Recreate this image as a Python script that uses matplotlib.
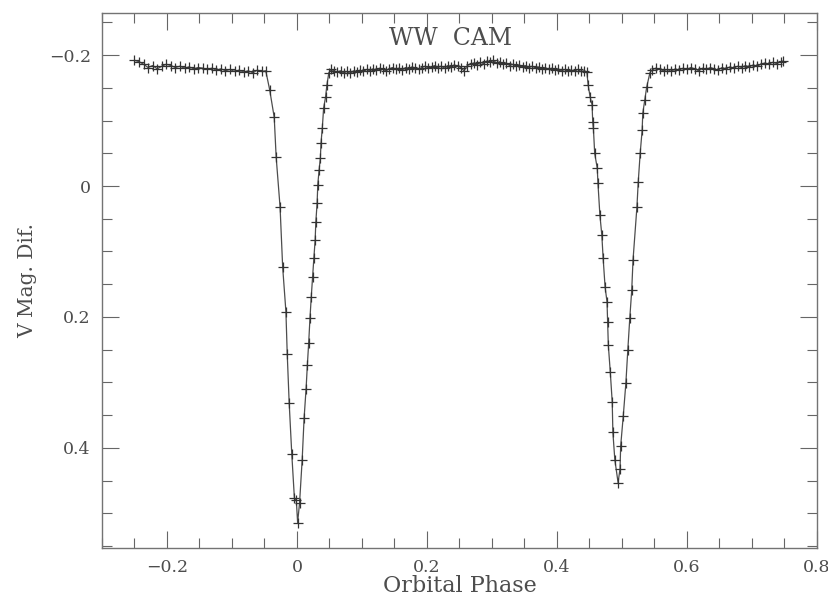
import numpy as np
import matplotlib
matplotlib.use("Agg")
import matplotlib.pyplot as plt
from matplotlib.ticker import MultipleLocator

# out of eclipse, before primary minimum
phase_a = [-0.250, -0.243, -0.236, -0.229, -0.222, -0.215, -0.208, -0.201, -0.194, -0.187,
           -0.180, -0.173, -0.166, -0.159, -0.152, -0.145, -0.138, -0.131, -0.124, -0.117,
           -0.110, -0.103, -0.096, -0.089, -0.082, -0.075, -0.068, -0.061, -0.054, -0.048]
mag_a = [-0.192, -0.190, -0.186, -0.181, -0.184, -0.179, -0.183, -0.186, -0.184, -0.181,
         -0.183, -0.180, -0.182, -0.179, -0.181, -0.180, -0.178, -0.180, -0.177, -0.179,
         -0.176, -0.178, -0.175, -0.177, -0.174, -0.176, -0.173, -0.177, -0.175, -0.176]

# primary eclipse
phase_p = [-0.042, -0.035, -0.032, -0.026, -0.022, -0.017, -0.015, -0.012, -0.008, -0.004,
           -0.001, 0.001, 0.004, 0.008, 0.011, 0.014, 0.016, 0.018, 0.020, 0.022,
           0.024, 0.026, 0.028, 0.029, 0.031, 0.032, 0.034, 0.036, 0.037, 0.039,
           0.041, 0.044, 0.046, 0.049]
mag_p = [-0.147, -0.105, -0.044, 0.032, 0.124, 0.192, 0.256, 0.331, 0.409, 0.476,
         0.480, 0.514, 0.484, 0.418, 0.354, 0.310, 0.273, 0.240, 0.202, 0.169,
         0.139, 0.110, 0.082, 0.055, 0.026, -0.002, -0.024, -0.043, -0.066, -0.089,
         -0.119, -0.136, -0.154, -0.173]

# out of eclipse, between minima
phase_b = [0.052, 0.057, 0.062, 0.067, 0.072, 0.077, 0.082, 0.087, 0.092, 0.097,
           0.102, 0.107, 0.112, 0.117, 0.122, 0.127, 0.132, 0.137, 0.142, 0.147,
           0.152, 0.157, 0.162, 0.167, 0.172, 0.177, 0.182, 0.187, 0.192, 0.197,
           0.202, 0.207, 0.212, 0.217, 0.222, 0.227, 0.232, 0.237, 0.242, 0.247,
           0.252, 0.257, 0.262, 0.267, 0.272, 0.277, 0.282, 0.287, 0.292, 0.297,
           0.302, 0.307, 0.312, 0.317, 0.322, 0.327, 0.332, 0.337, 0.342, 0.347,
           0.352, 0.357, 0.362, 0.367, 0.372, 0.377, 0.382, 0.387, 0.392, 0.397,
           0.402, 0.407, 0.412, 0.417, 0.422, 0.427, 0.432, 0.437, 0.442]
mag_b = [-0.178, -0.176, -0.174, -0.176, -0.173, -0.175, -0.172, -0.176, -0.174, -0.177,
         -0.175, -0.178, -0.176, -0.179, -0.177, -0.180, -0.178, -0.176, -0.179, -0.181,
         -0.178, -0.180, -0.177, -0.181, -0.179, -0.182, -0.180, -0.178, -0.181, -0.183,
         -0.180, -0.182, -0.184, -0.181, -0.183, -0.180, -0.184, -0.182, -0.185, -0.183,
         -0.181, -0.176, -0.184, -0.186, -0.188, -0.185, -0.189, -0.187, -0.191, -0.189,
         -0.192, -0.188, -0.190, -0.186, -0.188, -0.184, -0.186, -0.183, -0.185, -0.182,
         -0.184, -0.181, -0.183, -0.180, -0.182, -0.179, -0.181, -0.178, -0.180, -0.177,
         -0.179, -0.176, -0.178, -0.175, -0.177, -0.176, -0.178, -0.175, -0.176]

# secondary eclipse
phase_s = [0.446, 0.448, 0.451, 0.454, 0.455, 0.456, 0.458, 0.462, 0.463, 0.466,
           0.469, 0.471, 0.474, 0.477, 0.478, 0.479, 0.482, 0.485, 0.486, 0.489,
           0.494, 0.497, 0.498, 0.502, 0.506, 0.509, 0.512, 0.515, 0.517, 0.523,
           0.525, 0.528, 0.531, 0.532, 0.535, 0.538, 0.543]
mag_s = [-0.174, -0.154, -0.136, -0.124, -0.098, -0.089, -0.050, -0.027, -0.005, 0.044,
         0.075, 0.110, 0.154, 0.177, 0.208, 0.243, 0.284, 0.330, 0.376, 0.418,
         0.453, 0.432, 0.397, 0.351, 0.301, 0.250, 0.202, 0.159, 0.113, 0.032,
         -0.006, -0.050, -0.085, -0.111, -0.131, -0.151, -0.173]

# out of eclipse, after secondary minimum
phase_c = [0.546, 0.552, 0.558, 0.564, 0.570, 0.576, 0.582, 0.588, 0.594, 0.600,
           0.606, 0.612, 0.618, 0.624, 0.630, 0.636, 0.642, 0.648, 0.654, 0.660,
           0.666, 0.672, 0.678, 0.684, 0.690, 0.696, 0.702, 0.708, 0.714, 0.720,
           0.726, 0.732, 0.738, 0.744, 0.748]
mag_c = [-0.177, -0.180, -0.178, -0.176, -0.178, -0.175, -0.179, -0.177, -0.180, -0.178,
         -0.181, -0.179, -0.176, -0.180, -0.178, -0.181, -0.179, -0.177, -0.181, -0.179,
         -0.182, -0.180, -0.183, -0.181, -0.184, -0.182, -0.185, -0.183, -0.186, -0.188,
         -0.186, -0.189, -0.187, -0.190, -0.191]

phase = np.concatenate([phase_a, phase_p, phase_b, phase_s, phase_c])
mag = np.concatenate([mag_a, mag_p, mag_b, mag_s, mag_c])

plt.rcParams["font.family"] = ["DejaVu Serif"]

fig = plt.figure(figsize=(8.29, 5.99), dpi=100)
ax = fig.add_axes([0.123, 0.085, 0.8625, 0.893])

ax.plot(phase, mag, color="0.3", lw=0.9)
ax.plot(phase, mag, "+", color="0.2", ms=7, mew=0.9)

ax.set_xlim(-0.3, 0.8)
ax.set_ylim(0.553, -0.264)

ax.xaxis.set_minor_locator(MultipleLocator(0.05))
ax.yaxis.set_minor_locator(MultipleLocator(0.05))
ax.set_xticks([-0.2, 0, 0.2, 0.4, 0.6, 0.8])
ax.set_xticklabels(["\u22120.2", "0", "0.2", "0.4", "0.6", "0.8"])
ax.set_yticks([-0.2, 0, 0.2, 0.4])
ax.set_yticklabels(["\u22120.2", "0", "0.2", "0.4"])

ax.tick_params(which="both", direction="in", top=True, right=True, colors="0.4",
               labelcolor="0.3", labelsize=12.5, width=0.8)
ax.tick_params(which="major", length=12, pad=8)
ax.tick_params(which="minor", length=7)
for sp in ax.spines.values():
    sp.set_color("0.45")
    sp.set_linewidth(1.0)

ax.set_xlabel("Orbital Phase", fontsize=16, color="0.3", labelpad=-1)
ax.set_ylabel("V Mag. Dif.", fontsize=14.5, color="0.3", labelpad=8)
ax.text(0.237, -0.226, "WW  CAM", fontsize=17, color="0.3", ha="center", va="center")

fig.savefig("out.png", dpi=100)
